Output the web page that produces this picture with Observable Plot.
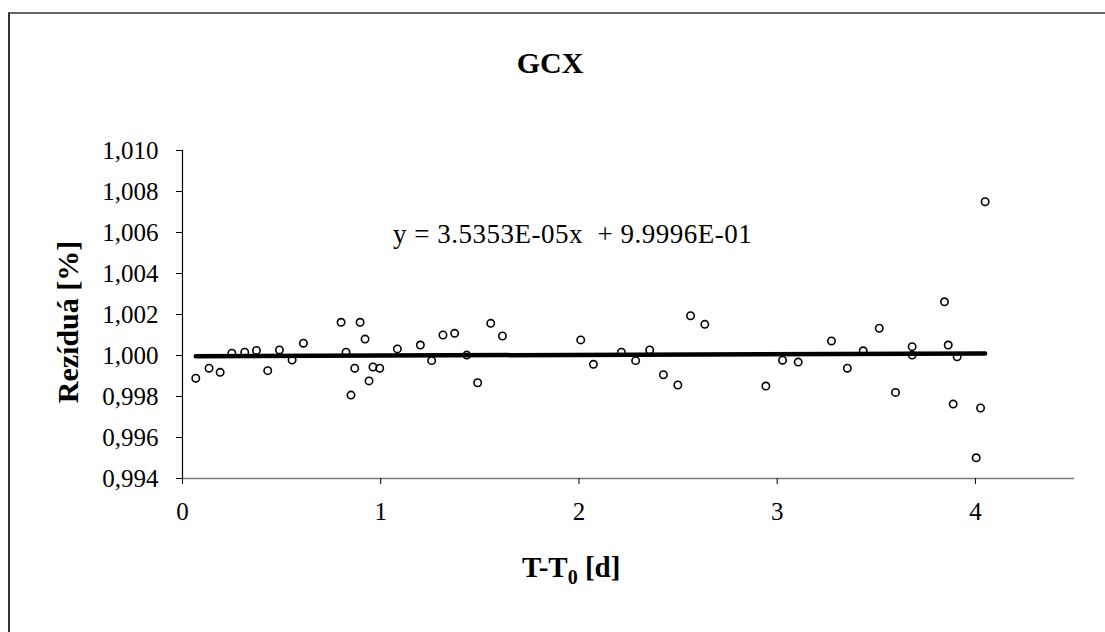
<!DOCTYPE html>
<html>
<head>
<meta charset="utf-8">
<script src="https://cdn.jsdelivr.net/npm/d3@7"></script>
<script src="https://cdn.jsdelivr.net/npm/@observablehq/plot@0.6"></script>
<style>
  html, body { margin: 0; padding: 0; background: white; }
  #wrap { position: relative; width: 1105px; height: 632px; overflow: hidden; }
  #frame { position: absolute; left: 8px; top: 12px; width: 1200px; height: 700px;
           border-left: 2px solid #333; border-top: 2px solid #666; pointer-events: none; }
</style>
</head>
<body>
<div id="wrap"><div id="frame"></div></div>
<script>
// Time since T0 [d]
const t = [0.067, 0.134, 0.190, 0.249, 0.314, 0.373, 0.430, 0.489, 0.553, 0.610,
  0.800, 0.825, 0.850, 0.869, 0.896, 0.921, 0.941, 0.961, 0.995, 1.084,
  1.200, 1.257, 1.314, 1.373, 1.434, 1.489, 1.555, 1.614, 2.009, 2.073,
  2.214, 2.286, 2.357, 2.426, 2.499, 2.563, 2.635, 2.943, 3.027, 3.106,
  3.274, 3.354, 3.434, 3.515, 3.597, 3.681, 3.681, 3.844, 3.863, 3.888,
  3.908, 4.004, 4.026, 4.049];
// Residual values [%]
const residual = [0.99889, 0.99938, 0.99918, 1.00011, 1.00016, 1.00025, 0.99926, 1.00027, 0.99978, 1.00060,
  1.00162, 1.00016, 0.99807, 0.99938, 1.00162, 1.00080, 0.99876, 0.99944, 0.99938, 1.00032,
  1.00051, 0.99975, 1.00100, 1.00108, 1.00002, 0.99867, 1.00157, 1.00095, 1.00076, 0.99957,
  1.00016, 0.99975, 1.00027, 0.99906, 0.99856, 1.00194, 1.00152, 0.99851, 0.99977, 0.99968,
  1.00071, 0.99938, 1.00023, 1.00133, 0.99820, 1.00043, 1.00002, 1.00262, 1.00051, 0.99763,
  0.99994, 0.99501, 0.99744, 1.00750];
// Fitted trend (from the equation on the chart)
const slope = 3.5353e-05;
const intercept = 9.9996e-01;
const xTicks = [0, 1, 2, 3, 4];
const yTicks = [0.994, 0.996, 0.998, 1.000, 1.002, 1.004, 1.006, 1.008, 1.010];
const titleText = "GCX";
const equationText = "y = 3.5353E-05x  + 9.9996E-01";

const data = t.map((d, i) => ({t: d, r: residual[i]}));
const tMin = d3.min(t), tMax = d3.max(t);
const trend = [tMin, tMax].map(x => ({t: x, r: slope * x + intercept}));

const serif = "'Liberation Serif', 'Times New Roman', serif";

const chart = Plot.plot({
  width: 1105,
  height: 632,
  marginLeft: 182,
  marginRight: 31,
  marginTop: 150,
  marginBottom: 154,
  style: {fontFamily: serif, fontSize: "25px", background: "transparent", color: "black"},
  x: {domain: [0, 4.5]},
  y: {domain: [0.994, 1.010]},
  marks: [
    Plot.ruleY([0.994], {stroke: "#7a7a7a", strokeWidth: 1.5}),
    Plot.ruleX([0], {stroke: "black", strokeWidth: 1.2}),
    Plot.axisX({ticks: xTicks, tickSize: 6, tickPadding: 18, label: null, tickFormat: d => String(d), fontSize: 25, stroke: "black"}),
    Plot.axisY({ticks: yTicks, tickSize: 6, tickPadding: 18, label: null, tickFormat: d => d3.format(".3f")(d).replace(".", ","), fontSize: 25, stroke: "black"}),
    Plot.line(trend, {x: "t", y: "r", stroke: "black", strokeWidth: 4.5}),
    Plot.dot(data, {x: "t", y: "r", r: 3.7, stroke: "black", strokeWidth: 1.6, fill: "none"})
  ]
});
chart.style.position = "absolute";
chart.style.left = "0px";
chart.style.top = "0px";
document.getElementById("wrap").appendChild(chart);

const svg = d3.select(chart);
svg.append("text").attr("x", 550).attr("y", 73).attr("text-anchor", "middle")
  .attr("font-family", serif).attr("font-weight", "bold").attr("font-size", 30).attr("fill", "black")
  .text(titleText);
svg.append("text").attr("x", 393).attr("y", 243).attr("text-anchor", "start")
  .attr("font-family", serif).attr("font-size", 27).attr("letter-spacing", 0.5).attr("fill", "black")
  .attr("xml:space", "preserve").style("white-space", "pre")
  .text(equationText);
const xl = svg.append("text").attr("x", 522).attr("y", 577).attr("text-anchor", "start")
  .attr("font-family", serif).attr("font-weight", "bold").attr("font-size", 29).attr("fill", "black");
xl.append("tspan").text("T-T");
xl.append("tspan").attr("font-size", 20).attr("dy", 7).text("0");
xl.append("tspan").attr("dy", -7).text(" [d]");
svg.append("text").attr("transform", "translate(78,322) rotate(-90)").attr("text-anchor", "middle")
  .attr("font-family", serif).attr("font-weight", "bold").attr("font-size", 30).attr("fill", "black")
  .text("Rezíduá [%]");
</script>
</body>
</html>
